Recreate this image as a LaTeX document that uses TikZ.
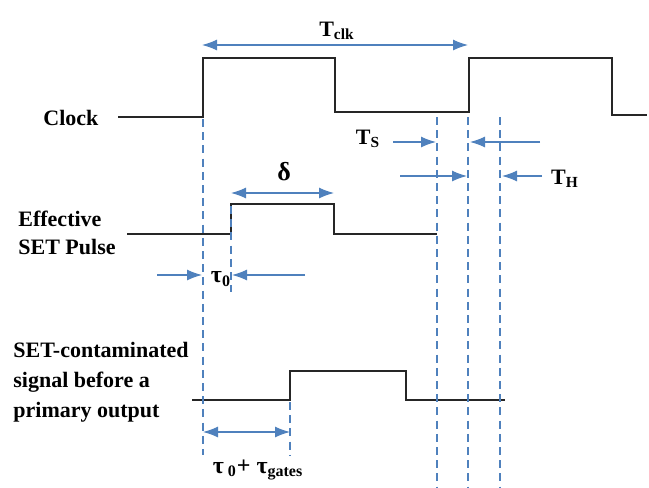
\documentclass[tikz,border=0pt]{standalone}
\usepackage{fontspec}
\setmainfont{Liberation Serif}
\usetikzlibrary{arrows.meta, positioning}
\definecolor{steel}{HTML}{4F81BD}

\begin{document}
\begin{tikzpicture}[x=0.5pt, y=-0.5pt,
    wave/.style={draw=black!85, line width=1.2pt},
    guide/.style={draw=steel, line width=0.9pt, dash pattern=on 4pt off 2.6pt},
    span/.style={draw=steel, line width=0.6pt, {Latex[length=7.5pt,width=5.5pt]}-{Latex[length=7.5pt,width=5.5pt]}},
    push/.style={draw=steel, line width=0.6pt, -{Latex[length=7.5pt,width=5.5pt]}},
    lbl/.style={font=\bfseries\fontsize{11}{14}\selectfont, align=left, inner sep=0pt},
    tlbl/.style={font=\bfseries\fontsize{11}{13}\selectfont, inner sep=0pt}]
  \useasboundingbox (0,0) rectangle (649,488);

  % signal names
  \node[lbl, anchor=west] (clk) at (43,118) {Clock};
  \node[lbl, anchor=west] (eff) at (18,233) {Effective\\SET Pulse};
  \node[lbl, anchor=west, font=\bfseries\fontsize{11}{15}\selectfont] (cont) at (13,382) {SET-contaminated\\signal before a\\primary output};

  % waveforms
  \draw[wave] (118,117) -- (203,117) -- (203,58) -- (335,58) -- (335,112) -- (469,112)
    -- (469,58) -- (612,58) -- (612,115) -- (647,115);
  \draw[wave] (127,234) -- (231,234) -- (231,204) -- (334,204) -- (334,234) -- (437,234);
  \draw[wave] (192,400) -- (290,400) -- (290,371) -- (406,371) -- (406,400) -- (505,400);

  % time marks
  \draw[guide] (203,119) -- (203,455);
  \draw[guide] (231,206) -- (231,292);
  \draw[guide] (290,402) -- (290,455);
  \draw[guide] (437,117) -- (437,488);
  \draw[guide] (468,117) -- (468,488);
  \draw[guide] (500,117) -- (500,488);

  % T_clk
  \coordinate (ca) at (202,45);
  \coordinate (cb) at (468,45);
  \draw[span] (ca) -- (cb);
  \node[tlbl] (tclk) at (337,31) {T\textsubscript{clk}};

  % setup and hold
  \coordinate (sa) at (393,142);
  \coordinate (sb) at (436,142);
  \coordinate (sc) at (540,142);
  \coordinate (sd) at (470,142);
  \draw[push] (sa) -- (sb);
  \draw[push] (sc) -- (sd);
  \node[tlbl] (ts) at (368,139) {T\textsubscript{S}};
  \coordinate (ha) at (400,176);
  \coordinate (hb) at (467,176);
  \coordinate (hc) at (542,176);
  \coordinate (hd) at (502,176);
  \draw[push] (ha) -- (hb);
  \draw[push] (hc) -- (hd);
  \node[tlbl] (th) at (565,179) {T\textsubscript{H}};

  % pulse width
  \coordinate (da) at (231,193);
  \coordinate (db) at (334,193);
  \draw[span] (da) -- (db);
  \node[tlbl, font=\bfseries\fontsize{13}{13}\selectfont] (dlt) at (284,172) {δ};

  % tau_0
  \coordinate (ua) at (157,275);
  \coordinate (ub) at (202,275);
  \coordinate (uc) at (305,275);
  \coordinate (ud) at (232,275);
  \draw[push] (ua) -- (ub);
  \draw[push] (uc) -- (ud);
  \node[tlbl, font=\bfseries\fontsize{12}{13}\selectfont] (tau) at (221,279) {τ\textsubscript{0}};

  % tau_0 + tau_gates
  \coordinate (ga) at (203,432);
  \coordinate (gb) at (290,432);
  \draw[span] (ga) -- (gb);
  \node[tlbl, font=\bfseries\fontsize{12}{13}\selectfont] (taug) at (258,470) {τ\textsubscript{ 0}+ τ\textsubscript{gates}};
\end{tikzpicture}
\end{document}
